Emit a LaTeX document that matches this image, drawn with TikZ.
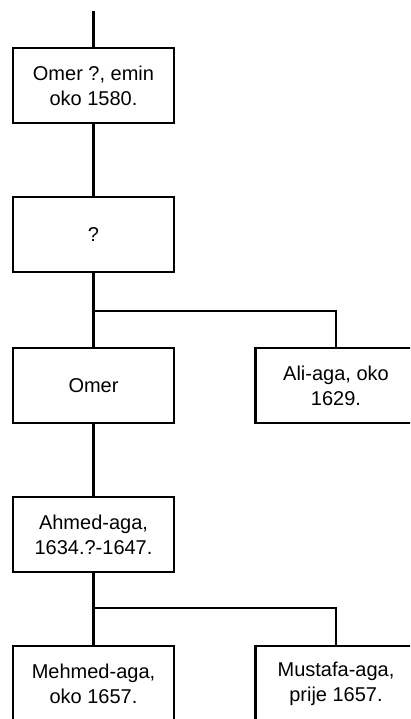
\documentclass[tikz,border=0pt]{standalone}
\usepackage{fontspec}
\setmainfont{Liberation Sans}
\begin{document}
\begin{tikzpicture}[x=1pt,y=-1pt,
  person/.style={draw, line width=2.2pt, minimum width=161pt, minimum height=75pt,
    inner sep=0pt, align=center, font=\fontsize{20}{25}\selectfont},
  link/.style={draw, line width=2.2pt}]
  \useasboundingbox (0,0) rectangle (410,719);
  \clip (0,0) rectangle (410,719);

  \coordinate (top) at (93.5,11);
  \node[person] (p1) at (93.5,85.5) {Omer ?, emin\\oko 1580.};
  \node[person] (p2) at (93.5,234.5) {?};
  \node[person] (p3) at (93.5,385.5) {Omer};
  \node[person] (p4) at (336,385.5) {Ali-aga, oko\\1629.};
  \node[person] (p5) at (93.5,534.5) {Ahmed-aga,\\1634.?-1647.};
  \node[person] (p6) at (93.5,683.5) {Mehmed-aga,\\oko 1657.};
  \node[person] (p7) at (336,683.5) {Mustafa-aga,\\prije 1657.};

  \coordinate (b1) at (93.5,311);
  \coordinate (b2) at (93.5,608);

  \draw[link] (top) -- (p1.north);
  \draw[link] (p1.south) -- (p2.north);
  \draw[link] (p2.south) -- (p3.north);
  \draw[link] (b1) -| (p4.north);
  \draw[link] (p3.south) -- (p5.north);
  \draw[link] (p5.south) -- (p6.north);
  \draw[link] (b2) -| (p7.north);
\end{tikzpicture}
\end{document}
